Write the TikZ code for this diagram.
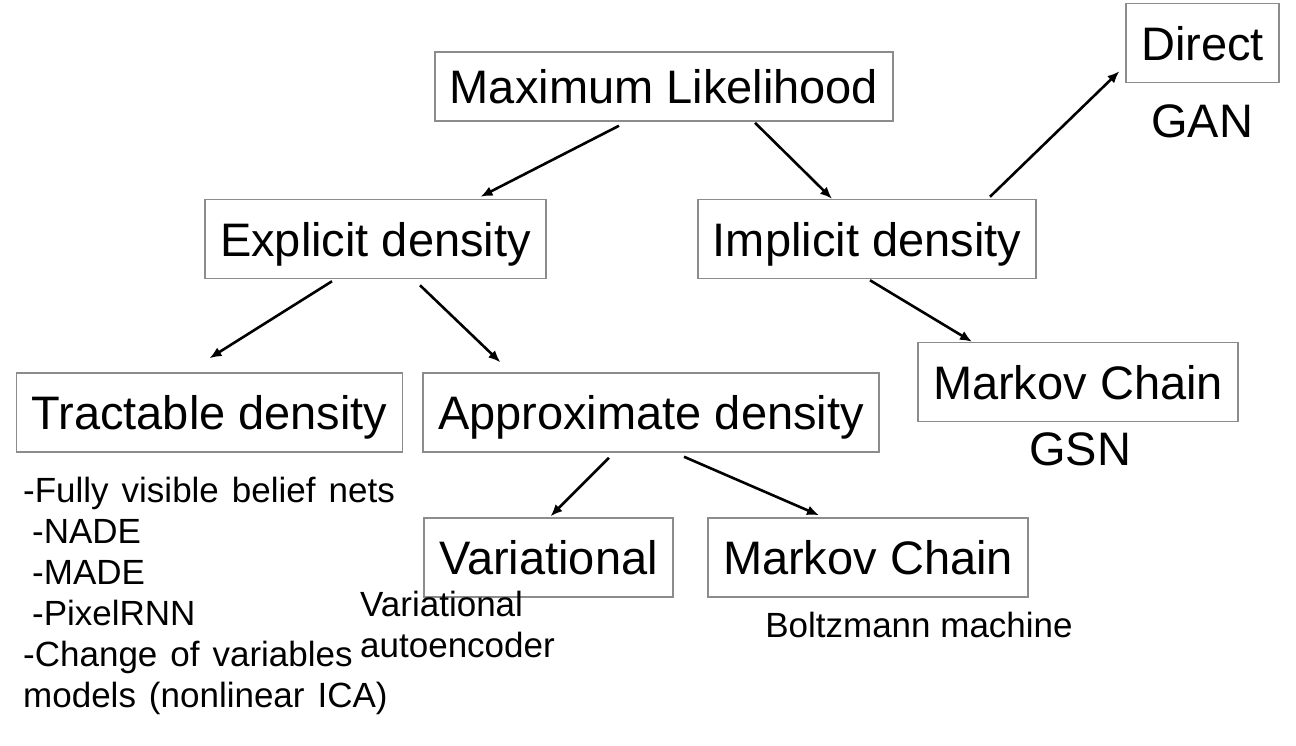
\documentclass[tikz,border=0pt]{standalone}
\usepackage{fontspec}
\setmainfont{Liberation Sans}
\usetikzlibrary{arrows.meta,positioning}

\begin{document}
\begin{tikzpicture}[
    x=1pt, y=-1pt,
    >={Latex[length=12pt,width=10pt]},
    font=\fontsize{47}{56}\selectfont,
    box/.style={
		rectangle,
		draw=black!45,
		line width=1.5pt,
		inner xsep=15pt,
		minimum height=79pt,
		text height=34pt,
		text depth=0pt
	},
	note/.style={
		inner sep=0pt,
		font=\fontsize{35}{41}\selectfont
	},
	bignote/.style={
		inner sep=0pt
	},
	link/.style={
		->,
		line width=2.6pt
	}
  ]
  \useasboundingbox (0,0) rectangle (1296,745);

  % the boxes
  \node [box, minimum height=69pt] (ml) at (664,86.5) {Maximum Likelihood};
  \node [box] (explicit) at (375.5,239) {Explicit density};
  \node [box] (implicit) at (867,239) {Implicit density};
  \node [box] (direct) at (1202.5,43) {Direct};
  \node [box] (tractable) at (209.5,412.5) {Tractable density};
  \node [box] (approx) at (651,412.5) {Approximate density};
  \node [box] (markovgsn) at (1078,382) {Markov Chain};
  \node [box] (variational) at (548.5,557.5) {Variational};
  \node [box] (markovbm) at (868,557.5) {Markov Chain};

  % the texts under the boxes
  \node [bignote, anchor=base] (gan) at (1202,137) {GAN};
  \node [bignote, anchor=base] (gsn) at (1080,465) {GSN};
  \node [note, anchor=base] (boltzmann) at (919,637) {Boltzmann machine};
  \node [note, anchor=north west] (vae) at (360,587.5)
 {%
 \begin{tabular}{@{}l@{}}
  Variational\\
  autoencoder
 \end{tabular}
 };
  \node [note, anchor=north west] (fvbn) at (23,473.5)
 {%
 \spaceskip=13pt
 \begin{tabular}{@{}l@{}}
  -Fully visible belief nets\\
  \hspace{9pt}-NADE\\
  \hspace{9pt}-MADE\\
  \hspace{9pt}-PixelRNN\\
  -Change of variables\\
  models (nonlinear ICA)
 \end{tabular}
 };

  % the arrows
  \draw [link] ([xshift=-45pt,yshift=-4pt]ml.south) -- ([xshift=105pt,yshift=2pt]explicit.north);
  \draw [link] ([xshift=91pt,yshift=-1pt]ml.south) -- ([xshift=-35pt]implicit.north);
  \draw [link] ([xshift=123pt,yshift=2pt]implicit.north) -- ([xshift=-6pt,yshift=12pt]direct.south west);
  \draw [link] ([xshift=3pt,yshift=-1pt]implicit.south) -- ([xshift=-106pt]markovgsn.north);
  \draw [link] ([xshift=-43.5pt,yshift=-2pt]explicit.south) -- ([yshift=14pt]tractable.north);
  \draw [link] ([xshift=44.5pt,yshift=-6pt]explicit.south) -- ([xshift=78pt,yshift=10pt]approx.north west);
  \draw [link] ([xshift=-42pt,yshift=-5pt]approx.south) -- ([xshift=2pt,yshift=1pt]variational.north);
  \draw [link] ([xshift=33pt,yshift=-4pt]approx.south) -- ([xshift=-49pt,yshift=2pt]markovbm.north);

\end{tikzpicture}
\end{document}
